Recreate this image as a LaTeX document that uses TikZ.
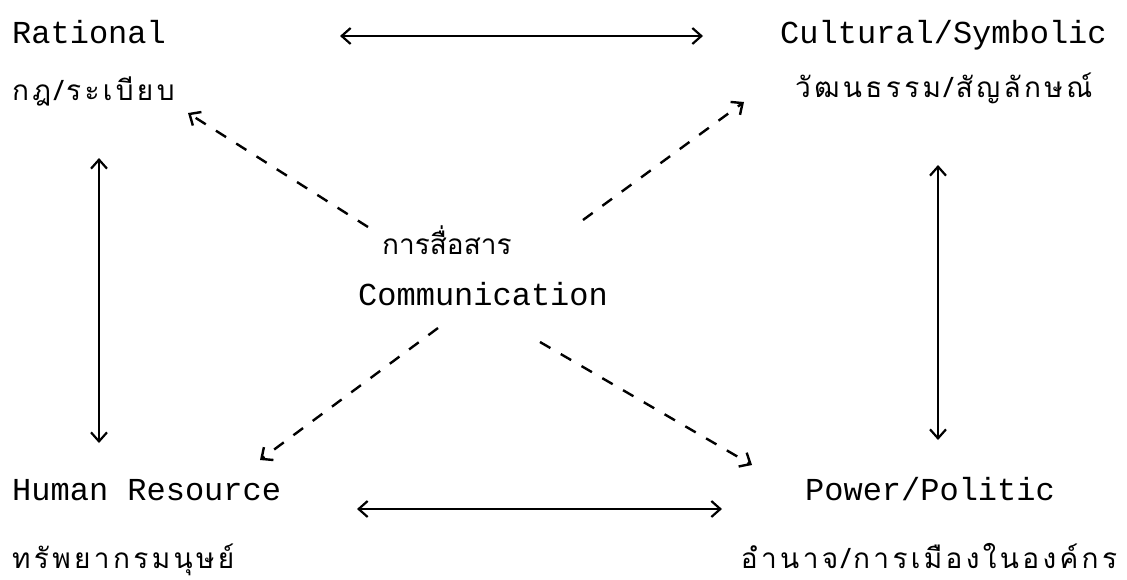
\documentclass[tikz,border=0pt]{standalone}
\usepackage{fontspec}
\newfontfamily\monofont{Liberation Mono}
\newfontfamily\thaifont[Script=Thai]{Loma}
\newfontfamily\thaiwide[Script=Thai, LetterSpace=12]{Loma}
\usetikzlibrary{arrows.meta}

\begin{document}
\begin{tikzpicture}[x=1pt, y=-1pt,
  eng/.style={font=\monofont\fontsize{32}{36}\selectfont, inner sep=0pt, anchor=base west},
  thai/.style={font=\thaiwide\fontsize{28}{34}\selectfont, inner sep=0pt, anchor=base west},
  link/.style={line width=2.2pt, {Straight Barb[length=9pt,width=16pt]}-{Straight Barb[length=9pt,width=16pt]}},
  flow/.style={line width=2.4pt, dash pattern=on 12pt off 12pt, -{Straight Barb[length=9pt,width=16pt]}}]
  \useasboundingbox (0,0) rectangle (1127,579);

  % Four corners
  \node[eng]  (rat)    at (12,43)  {Rational};
  \node[thai] (ratth)  at (12,100) {กฎ/ระเบียบ};
  \node[eng]  (cult)   at (780,43) {Cultural/Symbolic};
  \node[thai] (cultth) at (795,97) {วัฒนธรรม/สัญลักษณ์};
  \node[eng]  (hum)    at (12,500) {Human Resource};
  \node[thai] (humth)  at (12,568) {ทรัพยากรมนุษย์};
  \node[eng, anchor=base]  (pow)   at (930,500) {Power/Politic};
  \node[thai, anchor=base] (powth) at (929,568) {อำนาจ/การเมืองในองค์กร};

  % Centre
  \node[thai, font=\thaifont\fontsize{28}{34}\selectfont] (commth) at (382,254) {การสื่อสาร};
  \node[eng]  (comm)   at (358,305) {Communication};

  % Arrow ends
  \coordinate (topL) at (340,36);
  \coordinate (topR) at (703,36);
  \coordinate (botL) at (357,509);
  \coordinate (botR) at (722,509);
  \coordinate (lefT) at (99,158);
  \coordinate (lefB) at (99,443);
  \coordinate (rigT) at (938,165);
  \coordinate (rigB) at (938,440);
  \coordinate (tlS) at (368,227);
  \coordinate (tlE) at (188,113);
  \coordinate (trS) at (583,220);
  \coordinate (trE) at (744,102);
  \coordinate (blS) at (438,328);
  \coordinate (blE) at (260,460);
  \coordinate (brS) at (540,342);
  \coordinate (brE) at (752,465);

  % Solid links
  \draw[link] (topL) -- (topR);
  \draw[link] (botL) -- (botR);
  \draw[link] (lefT) -- (lefB);
  \draw[link] (rigT) -- (rigB);

  % Dashed links from the centre
  \draw[flow] (tlS) -- (tlE);
  \draw[flow] (trS) -- (trE);
  \draw[flow] (blS) -- (blE);
  \draw[flow] (brS) -- (brE);
\end{tikzpicture}
\end{document}
